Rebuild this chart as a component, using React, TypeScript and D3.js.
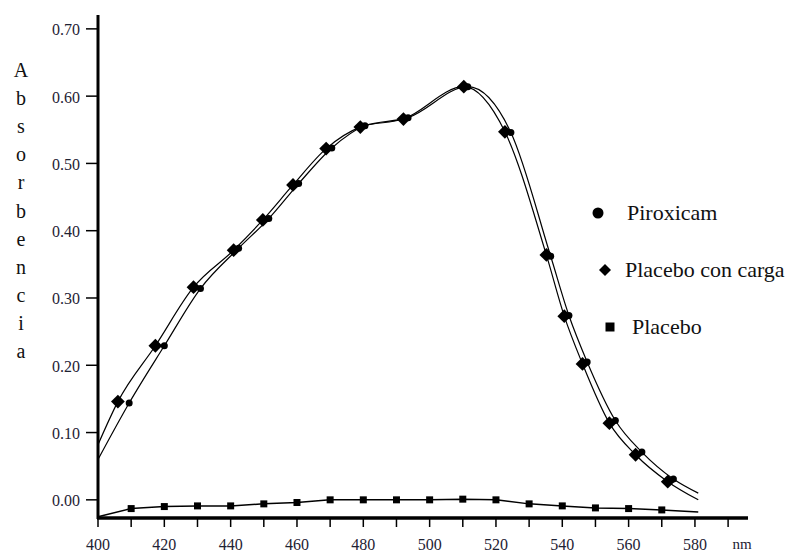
import React, { useEffect, useRef } from 'react';
import * as d3 from 'd3';

// Wavelengths (nm) and absorbance
const conCargaNm = [406, 417.3, 428.8, 440.9, 449.7, 458.8, 468.8, 479.1, 492.1, 510.3, 522.7, 535.2, 540.6, 546.1, 554.2, 562.1, 571.8];
const conCargaAbs = [0.146, 0.229, 0.316, 0.371, 0.416, 0.468, 0.522, 0.554, 0.566, 0.614, 0.547, 0.364, 0.273, 0.202, 0.114, 0.067, 0.027];
const conCargaStart = [400, 0.082];
const conCargaEnd = [581, 0.0];

const piroxicamNm = [409.4, 420, 430.9, 442.4, 451.5, 460.5, 470.5, 480.5, 493.5, 511.5, 524.5, 536.5, 542, 547.5, 556, 564, 573.5];
const piroxicamAbs = [0.144, 0.229, 0.314, 0.374, 0.418, 0.47, 0.523, 0.556, 0.568, 0.614, 0.546, 0.362, 0.274, 0.205, 0.118, 0.071, 0.031];
const piroxicamStart = [400, 0.06];
const piroxicamEnd = [581, 0.01];

const placeboNm = [410, 420, 430, 440, 450, 460, 470, 480, 490, 500, 510, 520, 530, 540, 550, 560, 570];
const placeboAbs = [-0.013, -0.01, -0.009, -0.009, -0.006, -0.004, 0.0, 0.0, 0.0, 0.0, 0.001, 0.0, -0.006, -0.009, -0.012, -0.013, -0.015];
const placeboStart = [400, -0.025];
const placeboEnd = [581, -0.018];

const yTicks = [0, 0.1, 0.2, 0.3, 0.4, 0.5, 0.6, 0.7];
const xTicks = d3.range(400, 600, 10);
const xLabels = [400, 420, 440, 460, 480, 500, 520, 540, 560, 580];
const yTitle = 'Absorbencia';
const legendItems = ['Piroxicam', 'Placebo con carga', 'Placebo'];

const width = 793;
const height = 552;
const font = "'Liberation Serif', 'Times New Roman', Times, 'DejaVu Serif', serif";

const App = () => {
  const ref = useRef<SVGSVGElement>(null);

  useEffect(() => {
    const svg = d3.select(ref.current);
    svg.selectAll('*').remove();

    const x = d3.scaleLinear().domain([400, 596]).range([98, 748]);
    const y = d3.scaleLinear().domain([-0.027, 0.7206]).range([518, 15]);

    const line = d3.line<number[]>()
      .x(d => x(d[0]))
      .y(d => y(d[1]))
      .curve(d3.curveMonotoneX);

    const lineLin = d3.line<number[]>()
      .x(d => x(d[0]))
      .y(d => y(d[1]));

    const zip = (a: number[], b: number[]) => a.map((v, i) => [v, b[i]]);
    const conCarga = zip(conCargaNm, conCargaAbs);
    const piroxicam = zip(piroxicamNm, piroxicamAbs);
    const placebo = zip(placeboNm, placeboAbs);

    // curves
    svg.append('path')
      .attr('d', line([piroxicamStart, ...piroxicam, piroxicamEnd]))
      .attr('fill', 'none').attr('stroke', '#000').attr('stroke-width', 1.2);
    svg.append('path')
      .attr('d', line([conCargaStart, ...conCarga, conCargaEnd]))
      .attr('fill', 'none').attr('stroke', '#000').attr('stroke-width', 1.2);
    svg.append('path')
      .attr('d', lineLin([placeboStart, ...placebo, placeboEnd]))
      .attr('fill', 'none').attr('stroke', '#000').attr('stroke-width', 1.5);

    // markers
    svg.selectAll('.pir')
      .data(piroxicam)
      .enter().append('circle')
      .attr('cx', d => x(d[0])).attr('cy', d => y(d[1]))
      .attr('r', 3.5).attr('fill', '#000');

    const diamond = d3.symbol(d3.symbolSquare, 95);
    svg.selectAll('.carga')
      .data(conCarga)
      .enter().append('path')
      .attr('d', diamond())
      .attr('transform', d => `translate(${x(d[0])},${y(d[1])}) rotate(45)`)
      .attr('fill', '#000');

    const square = d3.symbol(d3.symbolSquare, 49);
    svg.selectAll('.plac')
      .data(placebo)
      .enter().append('path')
      .attr('d', square())
      .attr('transform', d => `translate(${x(d[0])},${y(d[1])})`)
      .attr('fill', '#000');

    // axes
    svg.append('line')
      .attr('x1', 98).attr('x2', 98).attr('y1', 15).attr('y2', 519)
      .attr('stroke', '#000').attr('stroke-width', 3);
    svg.append('line')
      .attr('x1', 97).attr('x2', 748).attr('y1', 518).attr('y2', 518)
      .attr('stroke', '#000').attr('stroke-width', 3.5);

    svg.selectAll('.ytick')
      .data(yTicks)
      .enter().append('line')
      .attr('x1', 86).attr('x2', 98)
      .attr('y1', d => y(d)).attr('y2', d => y(d))
      .attr('stroke', '#000').attr('stroke-width', 1.5);

    svg.selectAll('.ylabel')
      .data(yTicks)
      .enter().append('text')
      .attr('x', 80).attr('y', d => y(d))
      .attr('dy', '0.4em')
      .attr('text-anchor', 'end')
      .style('font-family', font).attr('font-size', 16)
      .attr('fill', '#1e2233')
      .text(d => d.toFixed(2));

    svg.selectAll('.xtick')
      .data(xTicks)
      .enter().append('line')
      .attr('x1', d => x(d)).attr('x2', d => x(d))
      .attr('y1', 518).attr('y2', 527)
      .attr('stroke', '#000').attr('stroke-width', 1.5);

    svg.selectAll('.xlabel')
      .data(xLabels)
      .enter().append('text')
      .attr('x', d => x(d)).attr('y', 550)
      .attr('text-anchor', 'middle')
      .style('font-family', font).attr('font-size', 16)
      .attr('fill', '#1e2233')
      .text(d => d);

    svg.append('text')
      .attr('x', 742).attr('y', 549)
      .attr('text-anchor', 'middle')
      .style('font-family', font).attr('font-size', 15)
      .attr('fill', '#1e2233')
      .text('nm');

    // vertical title, one letter per row
    svg.selectAll('.title')
      .data(yTitle.split(''))
      .enter().append('text')
      .attr('x', 21).attr('y', (d, i) => 77 + i * 28.1)
      .attr('text-anchor', 'middle')
      .style('font-family', font).attr('font-size', 20)
      .attr('fill', '#111')
      .text(d => d);

    // legend
    const lg = svg.append('g');
    const rows = [213, 270, 327];
    lg.append('circle').attr('cx', 598).attr('cy', rows[0]).attr('r', 5.5).attr('fill', '#000');
    lg.append('path').attr('d', d3.symbol(d3.symbolSquare, 72)())
      .attr('transform', `translate(605,${rows[1]}) rotate(45)`).attr('fill', '#000');
    lg.append('path').attr('d', d3.symbol(d3.symbolSquare, 81)())
      .attr('transform', `translate(610,${rows[2]})`).attr('fill', '#000');
    const textX = [627, 625, 632];
    lg.selectAll('.lt')
      .data(legendItems)
      .enter().append('text')
      .attr('x', (d, i) => textX[i]).attr('y', (d, i) => rows[i])
      .attr('dy', '0.33em')
      .style('font-family', font).attr('font-size', 22)
      .attr('fill', '#111')
      .text(d => d);
  }, []);

  return (
    <svg ref={ref} width={width} height={height}
      style={{ position: 'absolute', left: 0, top: 0, background: '#fff' }} />
  );
};

export default App;
